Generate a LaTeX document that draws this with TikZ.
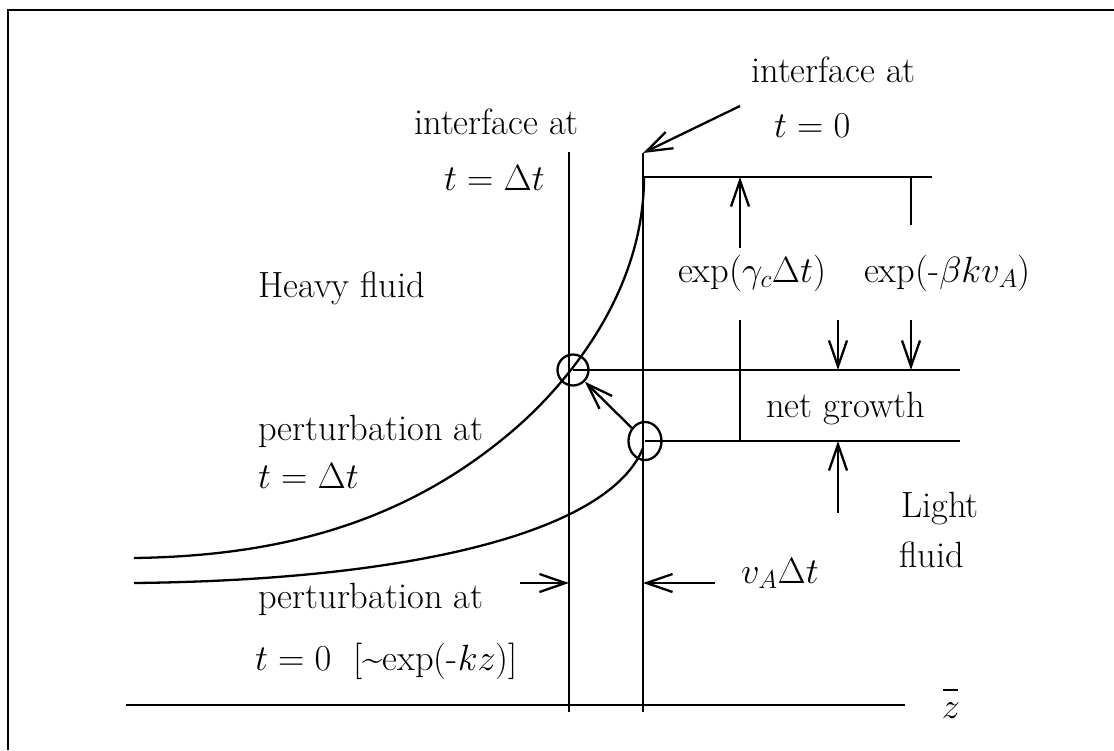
\documentclass[tikz,border=0pt]{standalone}
\usepackage{fix-cm}
\usetikzlibrary{arrows.meta,shapes.geometric}
\begin{document}
\begin{tikzpicture}[x=1pt,y=-1pt,line width=2.3pt,
  lbl/.style={anchor=base west,inner sep=0pt,font=\fontsize{36.5}{42}\selectfont},
  arr/.style={-{Straight Barb[length=26pt,width=18pt,line width=2.3pt]}},
  ring/.style={draw,circle,inner sep=0pt,minimum size=31pt},
  oval/.style={draw,ellipse,inner sep=0pt,minimum width=33pt,minimum height=38pt}]
\useasboundingbox (0,0) rectangle (1114,750);
% frame
\coordinate (F1) at (8,750); \coordinate (F2) at (8,10); \coordinate (F3) at (1114,10);
\draw (F1) -- (F2) -- (F3);
% interfaces
\coordinate (Lt) at (569,152); \coordinate (Lb) at (569,712);
\coordinate (Rt) at (643,153); \coordinate (Rb) at (643,712);
\draw[line width=2pt] (Lt) -- (Lb);
\draw[line width=2pt] (Rt) -- (Rb);
% axis
\coordinate (Ax1) at (126,705); \coordinate (Ax2) at (905,705);
\draw (Ax1) -- (Ax2);
\node[lbl,anchor=base] (zlab) at (951,718) {$z$};
\coordinate (Z1) at (943,690); \coordinate (Z2) at (958,690);
\draw[line width=2.6pt] (Z1) -- (Z2);
% circles
\node[ring] (cu) at (573,370) {};
\node[oval] (cl) at (645,441) {};
% horizontal levels
\coordinate (H1a) at (643,177); \coordinate (H1b) at (932,177);
\coordinate (H2b) at (960,370);
\coordinate (H3b) at (960,441);
\draw (H1a) -- (H1b);
\draw (cu.center) -- (H2b);
\draw (cl.center) -- (H3b);
% curves
\coordinate (C0) at (134,558); \coordinate (C1) at (517,427); \coordinate (C2) at (644,177);
\draw (C0) .. controls (280,556) and (407,523) .. (C1)
           .. controls (557,392) and (644,300) .. (C2);
\coordinate (K0) at (134,583); \coordinate (K2) at (643,448);
\draw (K0) .. controls (420,580) and (610,530) .. (K2);
% arrows
\draw[arr] (cl) -- (cu);
\coordinate (A0) at (740,106);
\draw[arr] (A0) -- (Rt);
\coordinate (G1) at (740,248); \coordinate (G2) at (740,177);
\draw[arr] (G1) -- (G2);
\coordinate (G3) at (740,320); \coordinate (G4) at (740,441);
\draw (G3) -- (G4);
\coordinate (B1) at (911,177); \coordinate (B2) at (911,225);
\draw (B1) -- (B2);
\coordinate (D1) at (838,320); \coordinate (D2) at (838,370);
\coordinate (D3) at (911,320); \coordinate (D4) at (911,370);
\draw[arr] (D1) -- (D2);
\draw[arr] (D3) -- (D4);
\coordinate (U1) at (838,513); \coordinate (U2) at (838,441);
\draw[arr] (U1) -- (U2);
\coordinate (W1) at (520,583); \coordinate (W2) at (569,583);
\coordinate (W3) at (715,583); \coordinate (W4) at (643,583);
\draw[arr] (W1) -- (W2);
\draw[arr] (W3) -- (W4);
% labels
\node[lbl] (t1) at (750,82) {interface at};
\node[lbl] (t2) at (773,137) {$t=0$};
\node[lbl] (l1) at (413,134) {interface at};
\node[lbl] (l2) at (443,190) {$t=\Delta t$};
\node[lbl] (heavy) at (257,297) {Heavy fluid};
\node[lbl] (p1) at (257,440) {perturbation at};
\node[lbl] (p1b) at (257,488) {$t=\Delta t$};
\node[lbl] (p0) at (257,608) {perturbation at};
\node[lbl] (p0b) at (254,670) {$t=0$\ \ [\textasciitilde exp(-$kz$)]};
\node[lbl,anchor=base] (e1) at (752,282) {exp($\gamma_c\Delta t$)};
\node[lbl] (e2) at (863,282) {exp(-$\beta k v_A$)};
\node[lbl] (net) at (765,417) {net growth};
\node[lbl] (light) at (900,517) {Light};
\node[lbl] (fluid) at (898,567) {fluid};
\node[lbl] (va) at (740,583) {$v_A\Delta t$};
\end{tikzpicture}
\end{document}
